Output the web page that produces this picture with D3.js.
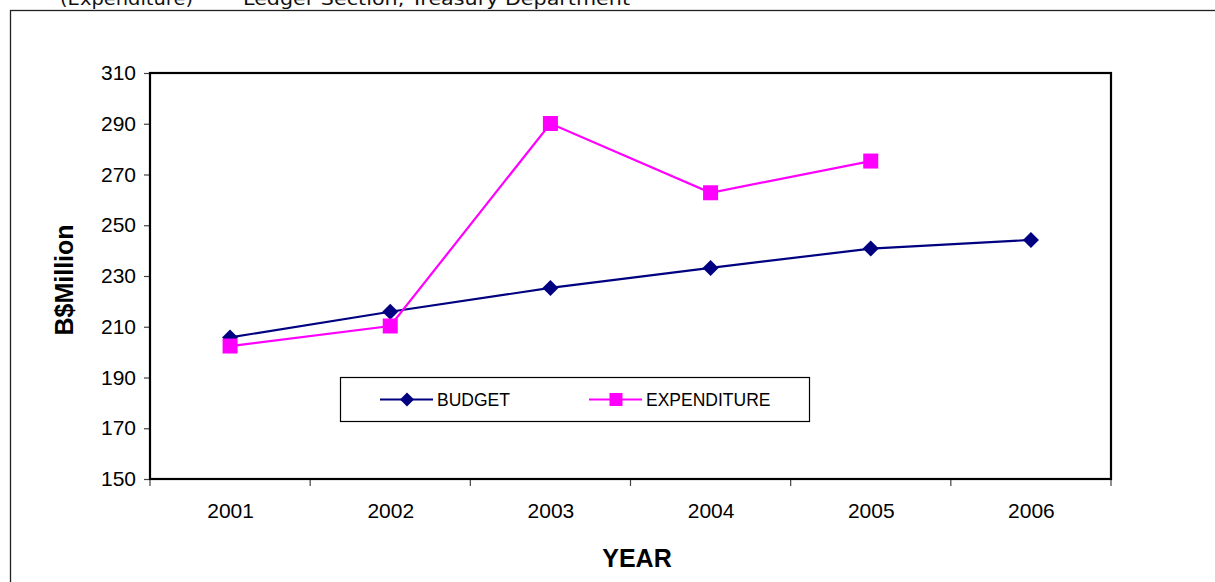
<!DOCTYPE html>
<html><head><meta charset="utf-8">
<script src="https://cdn.jsdelivr.net/npm/d3@7"></script>
<style>html,body{margin:0;padding:0;background:#fff;overflow:hidden}</style>
</head><body>
<svg id="c" width="1215" height="582"></svg>
<script>
const years = ["2001","2002","2003","2004","2005","2006"];
const budget = [205.8, 215.9, 225.3, 233.2, 240.8, 244.2];
const expenditure = [202.4, 210.3, 290.1, 262.8, 275.3, null];
const yTicks = [150,170,190,210,230,250,270,290,310];
const seriesNames = ["BUDGET","EXPENDITURE"];
const topTexts = ["(Expenditure)", "Ledger Section, Treasury Department"];

const svg = d3.select("#c");
const L = 150, R = 1111, T = 73, B = 479;
const x = d3.scalePoint().domain(years).range([L, R]).padding(0.5);
const step = x.step();
const y = d3.scaleLinear().domain([150,310]).range([B, T]);

// top cut text
svg.append("text").attr("x",60).attr("y",5).attr("font-family","DejaVu Sans, sans-serif")
  .attr("font-size",18).attr("fill","#111").attr("textLength",133).attr("lengthAdjust","spacingAndGlyphs").text(topTexts[0]);
svg.append("text").attr("x",243).attr("y",5).attr("font-family","DejaVu Sans, sans-serif")
  .attr("font-size",18).attr("fill","#111").attr("textLength",387).attr("lengthAdjust","spacingAndGlyphs").text(topTexts[1]);

// outer frame
svg.append("rect").attr("x",10.5).attr("y",10.5).attr("width",1300).attr("height",700)
  .attr("fill","none").attr("stroke","#222").attr("stroke-width",1.3);

const font = "Liberation Sans, Arial, sans-serif";

// y axis
const yAxis = d3.axisLeft(y).tickValues(yTicks).tickSize(6).tickPadding(8);
const gy = svg.append("g").attr("transform",`translate(${L},0)`).call(yAxis);
gy.select(".domain").remove();
gy.selectAll(".tick line").attr("stroke","#444").attr("stroke-width",1.2);
gy.selectAll(".tick text").attr("font-family",font).attr("font-size",21).attr("fill","#000");

// x axis: labels
const xAxis = d3.axisBottom(x).tickSize(0).tickPadding(24);
const gx = svg.append("g").attr("transform",`translate(0,${B})`).call(xAxis);
gx.select(".domain").remove();
gx.selectAll(".tick text").attr("font-family",font).attr("font-size",21).attr("fill","#000");
// x boundary ticks
const bounds = years.map(d => x(d) - step/2).concat([x(years[years.length-1]) + step/2]);
svg.append("g").selectAll("line").data(bounds).join("line")
  .attr("x1",d=>d).attr("x2",d=>d).attr("y1",B).attr("y2",B+7)
  .attr("stroke","#444").attr("stroke-width",1.2);

// plot border
svg.append("rect").attr("x",L).attr("y",T).attr("width",R-L).attr("height",B-T)
  .attr("fill","none").attr("stroke","#000").attr("stroke-width",2.2);

// titles
svg.append("text").attr("x",637).attr("y",567).attr("text-anchor","middle")
  .attr("font-family",font).attr("font-weight","bold").attr("font-size",25).text("YEAR");
svg.append("text").attr("transform","translate(73,280) rotate(-90)").attr("text-anchor","middle")
  .attr("font-family",font).attr("font-weight","bold").attr("font-size",25).text("B$Million");

// lines
const colors = ["#000080","#FF00FF"];
const data = [budget, expenditure];
const line = d3.line().defined(d => d.v != null).x(d => x(d.k)).y(d => y(d.v));
data.forEach((s,i) => {
  const pts = years.map((k,j) => ({k, v: s[j]}));
  svg.append("path").datum(pts).attr("d",line).attr("fill","none")
    .attr("stroke",colors[i]).attr("stroke-width",2.2);
});
const diamond = (cx,cy,r) => `M${cx},${cy-r}L${cx+r},${cy}L${cx},${cy+r}L${cx-r},${cy}Z`;
svg.append("g").selectAll("path").data(years.map((k,j)=>({k,v:budget[j]})).filter(d=>d.v!=null)).join("path")
  .attr("d", d => diamond(x(d.k), y(d.v), 8)).attr("fill",colors[0]);
svg.append("g").selectAll("rect").data(years.map((k,j)=>({k,v:expenditure[j]})).filter(d=>d.v!=null)).join("rect")
  .attr("x", d => x(d.k)-7.5).attr("y", d => y(d.v)-7.5).attr("width",15).attr("height",15).attr("fill",colors[1]);

// legend
svg.append("rect").attr("x",340.5).attr("y",377.5).attr("width",469).attr("height",44)
  .attr("fill","#fff").attr("stroke","#000").attr("stroke-width",1.2);
const legX = [380, 589];
seriesNames.forEach((n,i) => {
  const lx = legX[i], ly = 399.5;
  svg.append("line").attr("x1",lx).attr("x2",lx+53).attr("y1",ly).attr("y2",ly)
    .attr("stroke",colors[i]).attr("stroke-width",2.2);
  if (i===0) svg.append("path").attr("d",diamond(lx+27,ly,7)).attr("fill",colors[0]);
  else svg.append("rect").attr("x",lx+27-6.5).attr("y",ly-6.5).attr("width",13).attr("height",13).attr("fill",colors[1]);
  svg.append("text").attr("x",lx+57).attr("y",406).attr("font-family",font).attr("font-size",17.5).text(n);
});
</script>
</body></html>
